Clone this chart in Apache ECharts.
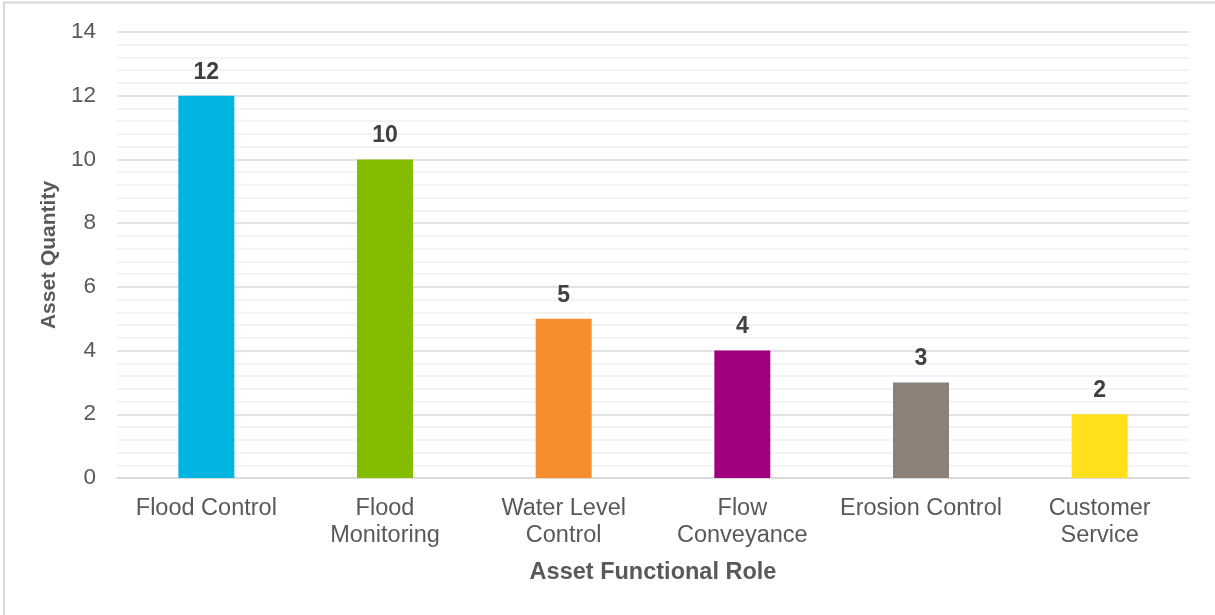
<!DOCTYPE html>
<html>
<head>
<meta charset="utf-8">
<script src="https://cdn.jsdelivr.net/npm/echarts@6/dist/echarts.min.js"></script>
<style>
  html, body { margin: 0; padding: 0; background: #ffffff; }
  #chart { width: 1215px; height: 615px; }
</style>
</head>
<body>
<div id="chart"></div>
<script>
// Asset counts by functional role
const categories = ['Flood Control', 'Flood\nMonitoring', 'Water Level\nControl', 'Flow\nConveyance', 'Erosion Control', 'Customer\nService'];
const quantities = [12, 10, 5, 4, 3, 2];
const barColors = ['#00B5E2', '#84BD00', '#F68D2E', '#A0007E', '#8B8178', '#FFE01B'];
const yTicks = { min: 0, max: 14, interval: 2 };

const FONT = '"Liberation Sans", Arial, sans-serif';
const chart = echarts.init(document.getElementById('chart'), null, { renderer: 'canvas' });

chart.setOption({
  backgroundColor: '#ffffff',
  animation: false,
  textStyle: { fontFamily: FONT },
  grid: { left: 117, right: 26, top: 32, bottom: 137 },
  xAxis: {
    type: 'category',
    data: categories,
    name: 'Asset Functional Role',
    nameLocation: 'middle',
    nameGap: 83,
    nameTextStyle: { fontFamily: FONT, fontSize: 23.5, fontWeight: 'bold', color: '#595959' },
    axisLine: { show: true, lineStyle: { color: '#d9d9d9', width: 1.5 } },
    axisTick: { show: false },
    axisLabel: { fontFamily: FONT, fontSize: 23.5, color: '#595959', margin: 17, lineHeight: 27, interval: 0 }
  },
  yAxis: {
    type: 'value',
    min: yTicks.min,
    max: yTicks.max,
    interval: yTicks.interval,
    name: 'Asset Quantity',
    nameLocation: 'middle',
    nameGap: 56,
    nameTextStyle: { fontFamily: FONT, fontSize: 21, fontWeight: 'bold', color: '#595959' },
    axisLine: { show: false },
    axisTick: { show: false },
    axisLabel: { fontFamily: FONT, fontSize: 22.5, color: '#595959', margin: 21 },
    splitLine: { show: true, lineStyle: { color: '#d9d9d9', width: 1.5 } },
    minorTick: { show: false, splitNumber: 5 },
    minorSplitLine: { show: true, lineStyle: { color: '#f0f0f0', width: 1.5 } }
  },
  series: [{
    type: 'bar',
    data: quantities.map((v, i) => ({ value: v, itemStyle: { color: barColors[i] } })),
    barWidth: 56,
    label: {
      show: true,
      position: 'top',
      distance: 12,
      fontFamily: FONT,
      fontSize: 23,
      fontWeight: 'bold',
      color: '#404040'
    }
  }],
  graphic: [
    { type: 'line', shape: { x1: 3, y1: 2.5, x2: 1215, y2: 2.5 }, style: { stroke: '#d9d9d9', lineWidth: 2 }, silent: true },
    { type: 'line', shape: { x1: 4, y1: 2, x2: 4, y2: 615 }, style: { stroke: '#d9d9d9', lineWidth: 2 }, silent: true }
  ]
});
</script>
</body>
</html>
